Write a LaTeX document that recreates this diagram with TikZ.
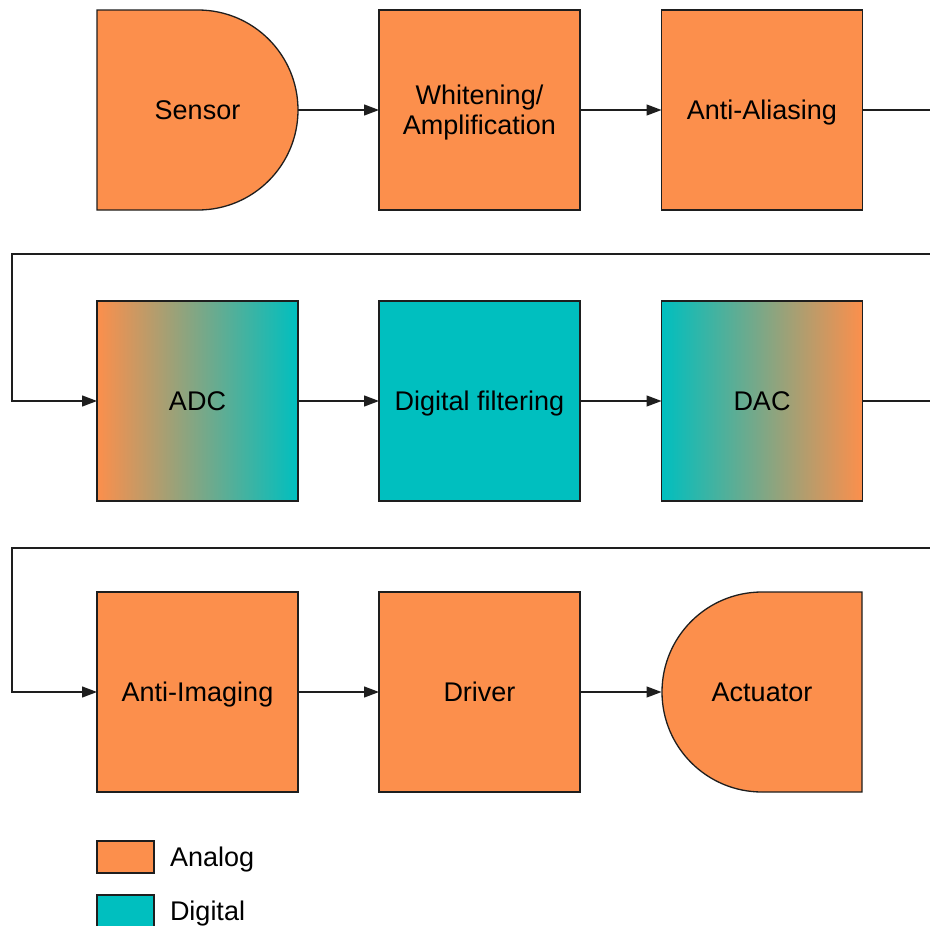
\documentclass[tikz,border=0pt]{standalone}
\usepackage{fontspec}
\setmainfont{Liberation Sans}
\usetikzlibrary{arrows.meta}
\definecolor{analog}{RGB}{252,143,76}
\definecolor{digital}{RGB}{0,191,191}
\definecolor{edge}{RGB}{30,30,30}
\begin{document}
\begin{tikzpicture}[x=1pt,y=-1pt,
  every node/.style={font=\fontsize{27}{30}\selectfont, inner sep=0pt, outer sep=0pt},
  blk/.style={draw=edge, line width=1.3pt, minimum width=201pt, minimum height=200pt, text height=19.3pt, text depth=0pt},
  ghost/.style={minimum width=201pt, minimum height=200pt, text height=19.3pt, text depth=0pt},
  ablk/.style={blk, fill=analog},
  dblk/.style={blk, fill=digital},
  lgd/.style={draw=edge, line width=1.3pt, minimum width=57pt, minimum height=32pt},
  conn/.style={draw=edge, line width=1.3pt, -{Triangle[length=15pt,width=11pt]}},
  wire/.style={draw=edge, line width=1.3pt}]
\useasboundingbox (0,0) rectangle (930,926);
\clip (0,0) rectangle (930,926);
% Sensor D-shape
\fill[analog, draw=edge, line width=1.3pt] (97,10) -- (198,10) arc[start angle=90, end angle=-90, radius=100pt] -- (97,210) -- cycle;
\node[ghost] (sensor) at (197.5,110) {Sensor};
\node[ablk, align=center, text height=49.3pt] (white) at (479.5,110) {Whitening/\\Amplification};
\node[ablk] (aa) at (762,110) {Anti-Aliasing};
% row 2
\node[blk, left color=analog, right color=digital] (adc) at (197.5,401) {ADC};
\node[dblk] (df) at (479.5,401) {Digital filtering};
\node[blk, left color=digital, right color=analog] (dac) at (762,401) {DAC};
% row 3
\node[ablk] (ai) at (197.5,692) {Anti-Imaging};
\node[ablk] (drv) at (479.5,692) {Driver};
\fill[analog, draw=edge, line width=1.3pt] (862,592) -- (862,792) -- (762,792) arc[start angle=270, end angle=90, radius=100pt] -- cycle;
\node[ghost] (act) at (762,692) {Actuator};
% connectors
\draw[conn] (sensor.east) -- (white.west);
\draw[conn] (white.east) -- (aa.west);
\coordinate (r1) at (960,254);
\coordinate (l1) at (12,254);
\draw[conn] (aa.east) -| (r1) -- (l1) |- (adc.west);
\draw[conn] (adc.east) -- (df.west);
\draw[conn] (df.east) -- (dac.west);
\coordinate (r2) at (960,548);
\coordinate (l2) at (12,548);
\draw[conn] (dac.east) -| (r2) -- (l2) |- (ai.west);
\draw[conn] (ai.east) -- (drv.west);
\draw[conn] (drv.east) -- (act.west);
% legend
\node[lgd, fill=analog] (lga) at (125.5,857) {};
\node[anchor=base west] (lgat) at (170,866) {Analog};
\node[lgd, fill=digital] (lgd) at (125.5,911) {};
\node[anchor=base west] (lgdt) at (170,920) {Digital};
\end{tikzpicture}
\end{document}
